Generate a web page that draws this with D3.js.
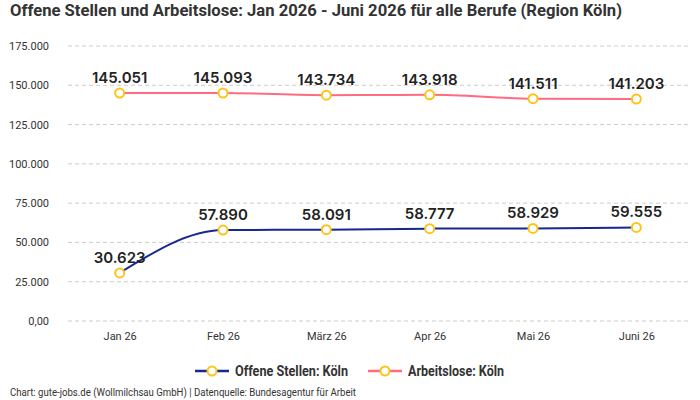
<!DOCTYPE html>
<meta charset="utf-8">
<style>
body { margin: 0; background: #fff; }
text { font-family: Roboto, "Noto Sans", sans-serif; }
.tick text { font: 11px Roboto, sans-serif; fill: #333; }
.label { font: 600 15px Inter, "Noto Sans", sans-serif; fill: #222; }
.grid line { stroke: #ccc; stroke-dasharray: 4,3; }
</style>
<body>
<script src="https://d3js.org/d3.v7.min.js"></script>
<script>
const months = ["Jan 26", "Feb 26", "März 26", "Apr 26", "Mai 26", "Juni 26"];
const offeneStellen = [30623, 57890, 58091, 58777, 58929, 59555];
const arbeitslose = [145051, 145093, 143734, 143918, 141511, 141203];
const yTicks = [0, 25000, 50000, 75000, 100000, 125000, 150000, 175000];

const series = [
  {name: "Offene Stellen: Köln", values: offeneStellen, color: "#17288f"},
  {name: "Arbeitslose: Köln", values: arbeitslose, color: "#ff6b81"}
];

const width = 700, height = 400;
const svg = d3.select("body").append("svg")
    .attr("width", width)
    .attr("height", height);

const x = d3.scalePoint().domain(months).range([68, 688]).padding(0.5);
const y = d3.scaleLinear().domain([0, 175000]).range([321, 46]);

const fmt = d3.format(",");
const de = v => v === 0 ? "0,00" : fmt(v).replace(/,/g, ".");

svg.append("text")
    .attr("x", 10).attr("y", 16)
    .style("font-size", "17px").style("font-weight", "bold")
    .attr("fill", "#333")
    .attr("textLength", 612).attr("lengthAdjust", "spacingAndGlyphs")
    .text("Offene Stellen und Arbeitslose: Jan 2026 - Juni 2026 für alle Berufe (Region Köln)");

// grid
svg.append("g").attr("class", "grid")
  .selectAll("line").data(yTicks).join("line")
    .attr("x1", 68).attr("x2", 688)
    .attr("y1", d => y(d)).attr("y2", d => y(d));

svg.append("g")
    .attr("transform", "translate(52,0)")
    .call(d3.axisLeft(y).tickValues(yTicks).tickFormat(de).tickSize(0))
    .call(g => g.select(".domain").remove());

svg.append("g")
    .attr("transform", "translate(0,323)")
    .call(d3.axisBottom(x).tickSize(0).tickPadding(9))
    .call(g => g.select(".domain").remove());

const line = d3.line()
    .x((d, i) => x(months[i]))
    .y(d => y(d))
    .curve(d3.curveMonotoneX);

series.forEach(s => {
  svg.append("path")
      .attr("d", line(s.values))
      .attr("fill", "none")
      .attr("stroke", s.color)
      .attr("stroke-width", 2);

  svg.append("g").selectAll("circle").data(s.values).join("circle")
      .attr("cx", (d, i) => x(months[i]))
      .attr("cy", d => y(d))
      .attr("r", 4.5)
      .attr("fill", "#fff")
      .attr("stroke", "#fcc419")
      .attr("stroke-width", 2);

  svg.append("g").selectAll("text").data(s.values).join("text")
      .attr("class", "label")
      .attr("x", (d, i) => x(months[i]))
      .attr("y", d => y(d) - 10)
      .attr("text-anchor", "middle")
      .text(de);
});

// legend
const legend = svg.append("g").attr("transform", "translate(0,371)");
const items = [{s: series[0], x: 195, w: 113}, {s: series[1], x: 368, w: 96}];
items.forEach(it => {
  const g = legend.append("g").attr("transform", `translate(${it.x},0)`);
  g.append("line").attr("x1", 0).attr("x2", 34).attr("y1", 0).attr("y2", 0)
      .attr("stroke", it.s.color).attr("stroke-width", 2.5);
  g.append("circle").attr("cx", 17).attr("cy", 0).attr("r", 4.5)
      .attr("fill", "#fff").attr("stroke", "#fcc419").attr("stroke-width", 2);
  g.append("text").attr("x", 40).attr("y", 5)
      .style("font-size", "14px").style("font-weight", "bold").attr("fill", "#333")
      .attr("textLength", it.w).attr("lengthAdjust", "spacingAndGlyphs")
      .text(it.s.name);
});

svg.append("text")
    .attr("x", 10).attr("y", 396)
    .style("font-size", "10.5px").attr("fill", "#333")
    .attr("textLength", 346).attr("lengthAdjust", "spacingAndGlyphs")
    .text("Chart: gute-jobs.de (Wollmilchsau GmbH) | Datenquelle: Bundesagentur für Arbeit");
</script>
</body>
